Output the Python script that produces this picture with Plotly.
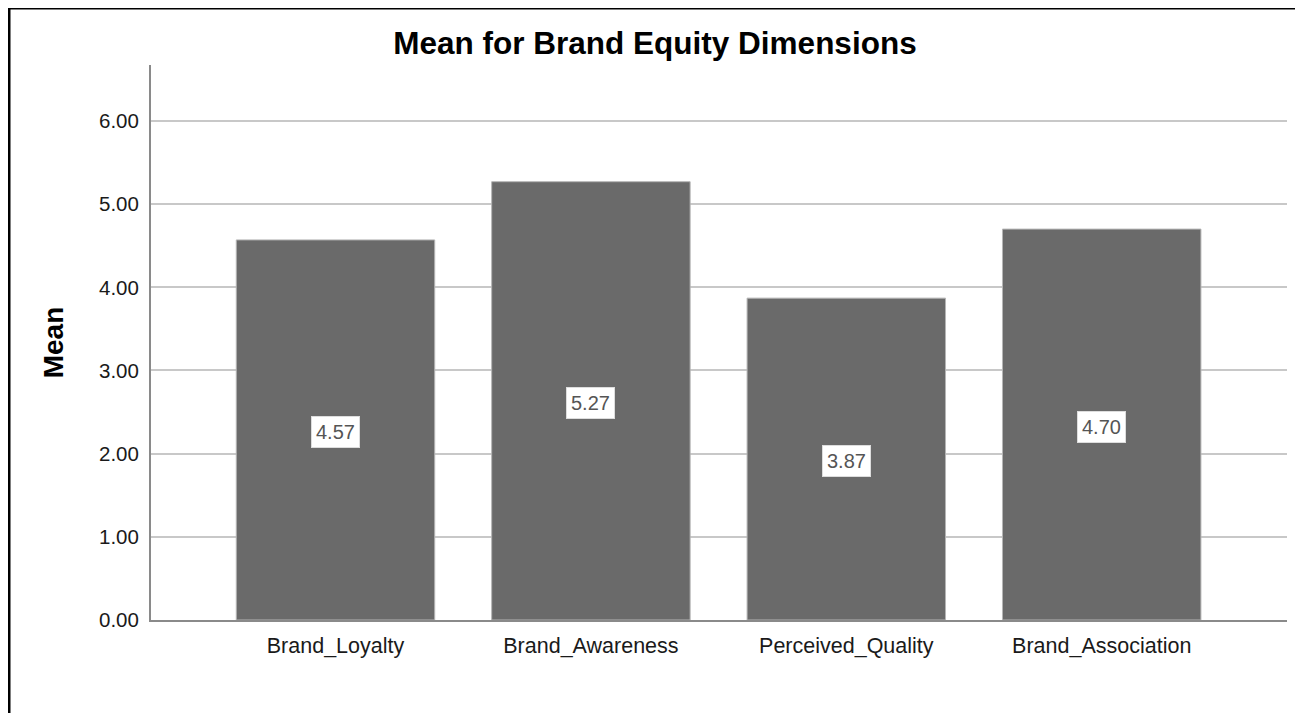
import plotly.graph_objects as go

categories = ["Brand_Loyalty", "Brand_Awareness", "Perceived_Quality", "Brand_Association"]
means = [4.57, 5.27, 3.87, 4.70]
y_ticks = [0, 1, 2, 3, 4, 5, 6]
y_tick_labels = ["0.00", "1.00", "2.00", "3.00", "4.00", "5.00", "6.00"]

FONT = "Liberation Sans, Arial, sans-serif"

fig = go.Figure()
fig.add_trace(go.Bar(
    x=list(range(len(categories))),
    y=means,
    width=0.777,
    marker=dict(color="#6a6a6a", line=dict(color="#b5b5b5", width=1)),
    hoverinfo="skip",
))

for i, v in enumerate(means):
    fig.add_annotation(
        x=i, y=v / 2, xref="x", yref="y",
        text=f"{v:.2f}", showarrow=False, yshift=-2,
        font=dict(family=FONT, size=20, color="#555555"),
        bgcolor="white", bordercolor="#dddddd", borderwidth=1, borderpad=4,
    )

# figure sits inside the page's 8px body margin
W, H = 1295, 705
L, R, T, B = 143, 16, 57, 93
pw, ph = W - L - R, H - T - B
def px(x):
    return (x - L) / pw
def py(y):
    return (H - B - y) / ph
frame = dict(color="black", width=4)
fig.add_shape(type="line", xref="paper", yref="paper", x0=px(0.5), x1=px(0.5), y0=py(-3), y1=py(720), line=frame)
fig.add_shape(type="line", xref="paper", yref="paper", x0=px(-2), x1=px(1295), y0=py(-0.5), y1=py(-0.5), line=frame)
fig.add_shape(type="line", xref="paper", yref="paper", x0=px(1293), x1=px(1293), y0=py(-3), y1=py(720), line=frame)

fig.update_layout(
    width=W, height=H,
    margin=dict(l=L, r=R, t=T, b=B),
    paper_bgcolor="white", plot_bgcolor="white",
    showlegend=False,
    title=dict(text="<b>Mean for Brand Equity Dimensions</b>", x=647 / W, xref="container",
               xanchor="center", y=1 - 35 / H, yref="container", yanchor="middle",
               font=dict(family=FONT, size=31.5, color="black")),
    xaxis=dict(
        tickmode="array", tickvals=list(range(len(categories))), ticktext=categories,
        range=[-0.7224, 3.7255], showgrid=False, zeroline=False,
        showline=True, linecolor="#8a8a8a", linewidth=2,
        ticks="", ticklabelstandoff=5,
        tickfont=dict(family=FONT, size=21.5, color="#1a1a1a"),
    ),
    yaxis=dict(
        tickmode="array", tickvals=y_ticks, ticktext=y_tick_labels,
        range=[0, 6.673], showgrid=True, gridcolor="#c8c8c8", gridwidth=2,
        zeroline=False, showline=True, linecolor="#8a8a8a", linewidth=2,
        ticks="", ticklabelstandoff=6,
        tickfont=dict(family=FONT, size=20.5, color="#1a1a1a"),
        title=dict(text="<b>Mean</b>", standoff=27,
                   font=dict(family=FONT, size=28, color="black")),
    ),
)

fig.write_html("out.html")
